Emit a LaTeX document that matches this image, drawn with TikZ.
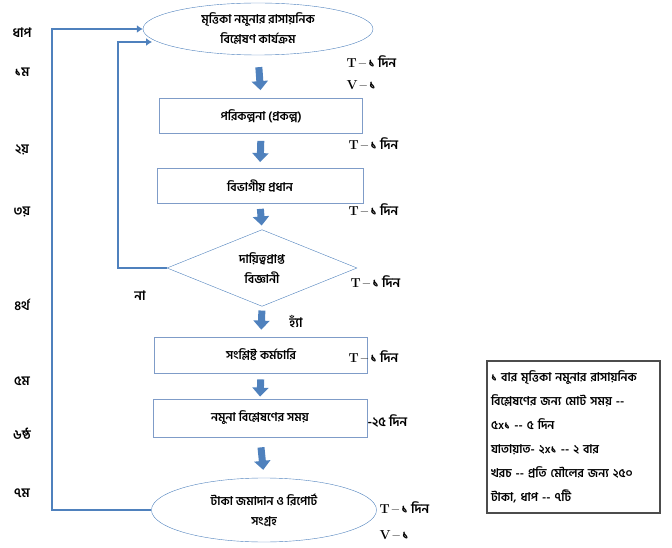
\documentclass[tikz,border=0pt]{standalone}
\usepackage{fontspec}
\newfontfamily\bn[Script=Bengali]{Hind Siliguri}
\usetikzlibrary{positioning, shapes.geometric, arrows.meta}
\definecolor{flowblue}{HTML}{4F81BD}
\definecolor{boxline}{HTML}{7F9CC8}
\newcommand{\tdin}{{\rmfamily\bfseries T\,--\,}{\bn\bfseries ১ দিন}}
\newcommand{\vek}{{\rmfamily\bfseries V\,--\,}{\bn\bfseries ১}}

\tikzset{
  stepbox/.style={draw=boxline, thick, rectangle, minimum height=35pt, inner sep=0, font=\bn\bfseries\fontsize{12}{20}\selectfont},
  endpoint/.style={draw=flowblue, ellipse, align=center, inner sep=0, font=\bn\bfseries\fontsize{12}{20}\selectfont},
  decide/.style={draw=flowblue, diamond, align=center, inner sep=0, font=\bn\bfseries\fontsize{12}{20}\selectfont},
  flow/.style={-{Triangle[width=16pt,length=9pt]}, line width=7pt, flowblue},
  back/.style={flowblue, line width=2.5pt, -{Latex[length=6pt,width=8pt]}},
  lbl/.style={font=\bn\bfseries\fontsize{13}{15}\selectfont},
  tlbl/.style={anchor=west, font=\fontsize{13}{15}\selectfont}
}

\begin{document}
\begin{tikzpicture}[x=1pt, y=-1pt]
\useasboundingbox (0,0) rectangle (672,548);
% flow nodes
\node[endpoint, minimum width=230pt, minimum height=52pt] (top) at (258,29) {মৃত্তিকা নমুনার রাসায়নিক\\বিশ্লেষণ কার্যক্রম};
\node[stepbox, minimum width=203pt] (pkm) at (261,116) {পরিকল্পনা (প্রকল্প)};
\node[stepbox, minimum width=206pt] (bhp) at (260,186) {বিভাগীয় প্রধান};
\node[decide, minimum width=190pt, minimum height=72pt] (dia) at (262,268) {দায়িত্বপ্রাপ্ত\\বিজ্ঞানী};
\node[stepbox, minimum width=213pt, minimum height=36pt] (skk) at (261,355) {সংশ্লিষ্ট কর্মচারি};
\node[stepbox, minimum width=214pt, minimum height=38pt] (nbs) at (260,418) {নমুনা বিশ্লেষণের সময়};
\node[endpoint, minimum width=225pt, minimum height=64pt] (bot) at (264,510) {টাকা জমাদান ও রিপোর্ট\\সংগ্রহ};

% block arrows
\draw[flow, shorten <=12pt, shorten >=8pt] (top.south) -- (pkm.north);
\draw[flow, shorten <=7pt, shorten >=6pt] (pkm.south) -- (bhp.north);
\draw[flow, shorten <=5pt, shorten >=4pt] (bhp.south) -- (dia.north);
\draw[flow, shorten <=4pt, shorten >=7pt] (dia.south) -- (skk.north);
\draw[flow, shorten <=6pt, shorten >=2pt] (skk.south) -- (nbs.north);
\draw[flow, shorten <=10pt, shorten >=8pt] (nbs.south) -- (bot.north);

% feedback lines
\coordinate (outer) at (52,300);
\coordinate (inner) at (118,150);
\coordinate (innertop) at (152,42);
\draw[back] (bot.west) -| (outer) |- (top.west);
\draw[back] (dia.west) -| (inner) |- (innertop);
\node[lbl] (na) at (140,296) {না};
\node[lbl] (ha) at (296,321) {হ্যাঁ};

% step numbers
\foreach \yy/\txt in {33/ধাপ, 72/১ম, 150/২য়, 212/৩য়, 305/৪র্থ, 381/৫ম, 434/৬ষ্ঠ, 493/৭ম}
  \node[lbl] at (22,\yy) {\txt};

% times
\node[tlbl] (t1) at (343,62) {\tdin};
\node[tlbl] (v1) at (343,85) {\vek};
\node[tlbl] (t2) at (345,144) {\tdin};
\node[tlbl] (t3) at (345,210) {\tdin};
\node[tlbl] (t4) at (347,282) {\tdin};
\node[tlbl] (t5) at (345,357) {\tdin};
\node[tlbl, font=\bn\bfseries\fontsize{13}{15}\selectfont] (t6) at (364,421) {-২৫ দিন};
\node[tlbl] (t7) at (376,508) {\tdin};
\node[tlbl] (v7) at (376,535) {\vek};

% summary box
\node[draw=gray!60!black, line width=1.2pt, minimum width=173pt, minimum height=152pt, text width=165pt, align=left, inner sep=4pt, font=\bn\bfseries\fontsize{12}{24}\selectfont] (sum) at (573.5,437)
  {১ বার মৃত্তিকা নমুনার রাসায়নিক\\বিশ্লেষণের জন্য মোট সময় --\\৫x১ -- ৫ দিন\\যাতায়াত- ২x১ -- ২ বার\\খরচ -- প্রতি মৌলের জন্য ২৫০\\টাকা, ধাপ -- ৭টি};
\end{tikzpicture}
\end{document}
